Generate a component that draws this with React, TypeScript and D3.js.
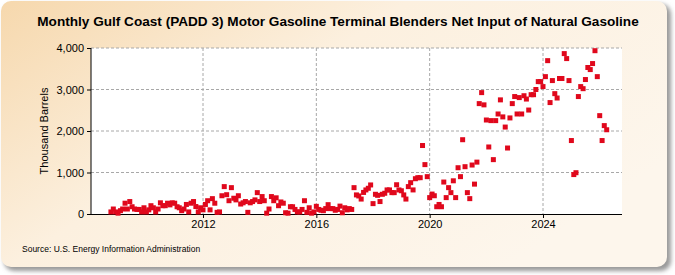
import React, { useEffect, useRef } from "react";
import * as d3 from "d3";

// monthly net input, thousand barrels, starting Oct 2008
const startYear = 2008;
const startMonth = 9; // 0-based: October

const values2008to2011 = [
  50, 120, 50, 20, 80, 120, 260, 120, 300, 175, 120, 110, 110, 50, 150, 50,
  100, 200, 150, 50, 120, 270, 200, 200, 260, 220, 270, 260, 175, 150, 80, 120,
  230, 50, 260, 300, 180, 50, 150,
];
const values2012to2016 = [
  100, 230, 320, 100, 370, 260, 40, 50, 440, 660, 465, 320, 635, 380, 340, 440,
  240, 270, 300, 40, 270, 300, 340, 515, 300, 420, 320, 20, 120, 420, 320, 390,
  200, 290, 260, 30, 20, 175, 175, 110, 50, 50, 110, 320, 40, 150, 20, 50, 185,
  110,
];
const values2016to2019 = [
  90, 80, 130, 225, 130, 130, 90, 110, 190, 30, 150, 100, 130, 110, 635, 460,
  435, 360, 520, 580, 620, 700, 250, 475, 450, 300, 475, 500, 580, 580, 515, 515,
  705, 580, 560, 460, 360, 660, 755, 580, 850, 875, 875,
];
const values2019to2026 = [
  1650, 1190, 900, 395, 480, 440, 175, 230, 175, 770, 395, 635, 515, 800, 395,
  1115, 900, 1790, 1140, 515, 370, 1180, 720, 1250, 2660, 2925, 2630, 2265, 1615,
  2250, 1310, 2250, 2410, 2750, 2340, 2095, 1590, 2315, 2660, 2830, 2410, 2805,
  2410, 2850, 2770, 2505, 2875, 2875, 3000, 3190, 3190, 3070, 3310, 3695, 2685,
  3215, 2900, 2795, 3265, 3265, 3865, 3745, 3215, 1770, 950, 995, 2830, 3070,
  3020, 3240, 3530, 3480, 3625, 3935, 3310, 2370, 1770, 2130, 2030,
];

const yTicks = [0, 1000, 2000, 3000, 4000];
const xTickYears = [2012, 2016, 2020, 2024];

const App = () => {
  const svgRef = useRef<SVGSVGElement>(null);

  useEffect(() => {
    const w = 675;
    const h = 275;
    const left = 91;
    const right = 622;
    const top = 48;
    const bottom = 214;

    const series = [
      ...values2008to2011,
      ...values2012to2016,
      ...values2016to2019,
      ...values2019to2026,
    ].map((v, i) => ({ date: new Date(startYear, startMonth + i, 1), v }));

    const svg = d3.select(svgRef.current).attr("width", w).attr("height", h);
    svg.selectAll("*").remove();

    const defs = svg.append("defs");
    const grad = defs
      .append("linearGradient")
      .attr("id", "bg")
      .attr("x1", "0")
      .attr("y1", "0")
      .attr("x2", "1")
      .attr("y2", "0.6");
    grad.append("stop").attr("offset", "0").attr("stop-color", "#f6d8ad");
    grad.append("stop").attr("offset", "0.45").attr("stop-color", "#fcf0df");
    grad.append("stop").attr("offset", "1").attr("stop-color", "#fdf6ec");

    const shadow = defs.append("filter").attr("id", "blur");
    shadow.append("feGaussianBlur").attr("stdDeviation", 2);

    // frame with drop shadow
    svg
      .append("rect")
      .attr("x", 4)
      .attr("y", 4)
      .attr("width", 667)
      .attr("height", 267)
      .attr("rx", 10)
      .attr("fill", "#9a9a9a")
      .attr("filter", "url(#blur)");
    svg
      .append("rect")
      .attr("x", 1)
      .attr("y", 1)
      .attr("width", 666)
      .attr("height", 266)
      .attr("rx", 10)
      .attr("fill", "url(#bg)");

    // plot area
    svg
      .append("rect")
      .attr("x", left)
      .attr("y", top)
      .attr("width", right - left)
      .attr("height", bottom - top)
      .attr("fill", "#ffffff");

    const xRef = d3
      .scaleTime()
      .domain([new Date(2012, 0, 1), new Date(2024, 0, 1)])
      .range([203, 543]);
    const xScale = d3
      .scaleTime()
      .domain([xRef.invert(left), xRef.invert(right)])
      .range([left, right]);
    const yScale = d3.scaleLinear().domain([0, 4000]).range([bottom, top]);

    // grid
    svg
      .append("g")
      .selectAll("line")
      .data(yTicks.filter((t) => t > 0))
      .join("line")
      .attr("x1", left)
      .attr("x2", right)
      .attr("y1", (d) => yScale(d))
      .attr("y2", (d) => yScale(d))
      .attr("stroke", "#a8a8a8")
      .attr("stroke-dasharray", "3,2");
    svg
      .append("g")
      .selectAll("line")
      .data(xTickYears)
      .join("line")
      .attr("x1", (d) => xScale(new Date(d, 0, 1)))
      .attr("x2", (d) => xScale(new Date(d, 0, 1)))
      .attr("y1", top)
      .attr("y2", bottom)
      .attr("stroke", "#a8a8a8")
      .attr("stroke-dasharray", "3,2");

    // axes
    const yAxis = d3
      .axisLeft(yScale)
      .tickValues(yTicks)
      .tickSize(4)
      .tickPadding(3)
      .tickFormat((d) => d3.format(",")(d as number));
    const gy = svg
      .append("g")
      .attr("transform", `translate(${left},0)`)
      .call(yAxis);
    gy.select(".domain").remove();
    gy.selectAll("text")
      .attr("font-family", "Liberation Sans, Arial, sans-serif")
      .attr("font-size", 11)
      .attr("fill", "#000");

    const xAxis = d3
      .axisBottom(xScale)
      .tickValues(xTickYears.map((y) => new Date(y, 0, 1)))
      .tickSize(4)
      .tickPadding(2)
      .tickFormat((d) => d3.timeFormat("%Y")(d as Date));
    const gx = svg
      .append("g")
      .attr("transform", `translate(0,${bottom})`)
      .call(xAxis);
    gx.select(".domain").remove();
    gx.selectAll("text")
      .attr("font-family", "Liberation Sans, Arial, sans-serif")
      .attr("font-size", 11)
      .attr("fill", "#000");

    svg
      .append("line")
      .attr("x1", left)
      .attr("x2", left)
      .attr("y1", top)
      .attr("y2", bottom)
      .attr("stroke", "#000");
    svg
      .append("line")
      .attr("x1", left)
      .attr("x2", right)
      .attr("y1", bottom + 0.5)
      .attr("y2", bottom + 0.5)
      .attr("stroke", "#000");

    // points
    svg
      .append("g")
      .selectAll("rect")
      .data(series)
      .join("rect")
      .attr("x", (d) => xScale(d.date) - 2.5)
      .attr("y", (d) => yScale(d.v) - 2.5)
      .attr("width", 5)
      .attr("height", 5)
      .attr("fill", "#e0081c");

    // titles
    svg
      .append("text")
      .attr("x", 338)
      .attr("y", 26)
      .attr("text-anchor", "middle")
      .attr("font-family", "Liberation Sans, Arial, sans-serif")
      .attr("font-size", 13.6)
      .attr("font-weight", "bold")
      .text(
        "Monthly Gulf Coast (PADD 3) Motor Gasoline Terminal Blenders Net Input of Natural Gasoline"
      );
    svg
      .append("text")
      .attr("transform", `translate(48,${(top + bottom) / 2}) rotate(-90)`)
      .attr("text-anchor", "middle")
      .attr("font-family", "Liberation Sans, Arial, sans-serif")
      .attr("font-size", 11)
      .text("Thousand Barrels");
    svg
      .append("text")
      .attr("x", 22)
      .attr("y", 252)
      .attr("font-family", "Liberation Sans, Arial, sans-serif")
      .attr("font-size", 8.5)
      .text("Source: U.S. Energy Information Administration");
  }, []);

  return (
    <svg
      ref={svgRef}
      style={{ position: "absolute", left: 0, top: 0, display: "block" }}
    />
  );
};

export default App;
